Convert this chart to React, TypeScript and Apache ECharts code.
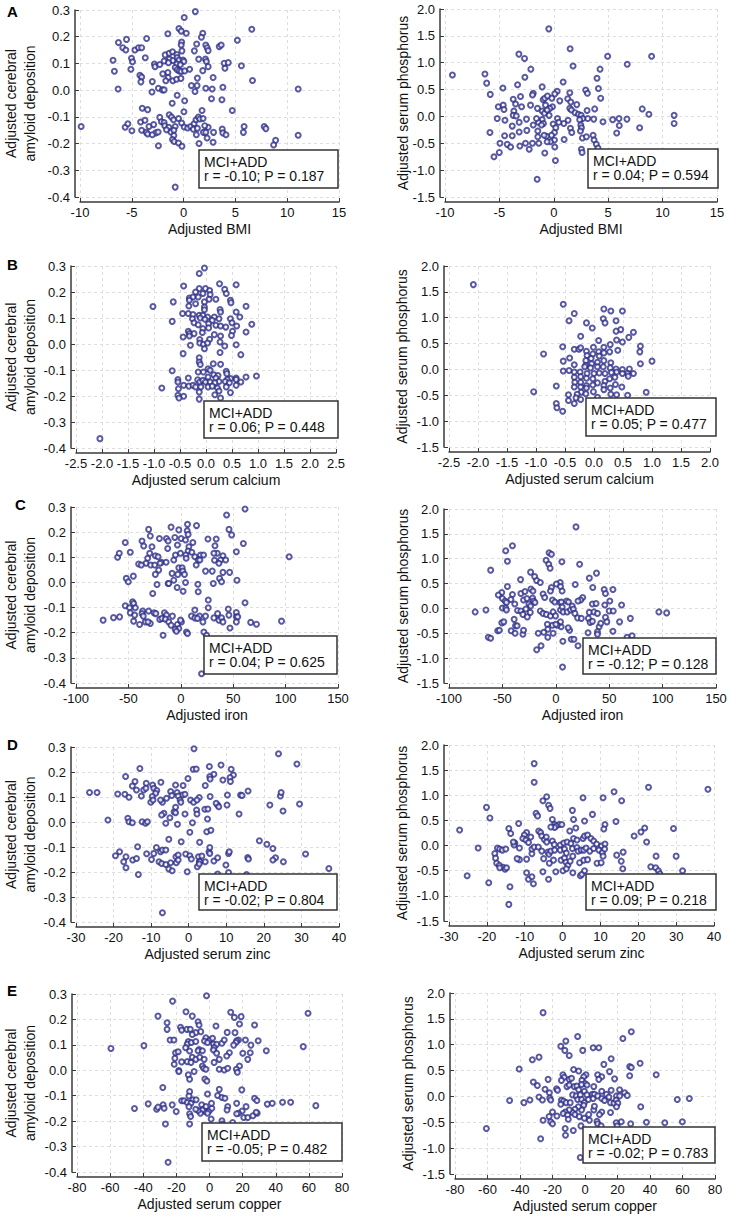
import React, { useEffect, useRef } from "react";
import * as echarts from "echarts";

// ---------- DATA ----------
const panelLetters = ["A", "B", "C", "D", "E"];
const xNames = ["Adjusted BMI", "Adjusted serum calcium", "Adjusted iron", "Adjusted serum zinc", "Adjusted serum copper"];
const yNameLeft = "Adjusted cerebral\namyloid deposition";
const yNameRight = "Adjusted serum phosphorus";
const groupLabel = "MCI+ADD";
const statsLeft = ["r = -0.10; P = 0.187", "r = 0.06; P = 0.448", "r = 0.04; P = 0.625", "r = -0.02; P = 0.804", "r = -0.05; P = 0.482"];
const statsRight = ["r = 0.04; P = 0.594", "r = 0.05; P = 0.477", "r = -0.12; P = 0.128", "r = 0.09; P = 0.218", "r = -0.02; P = 0.783"];

// x-axis scales [min, max, interval, decimals]
const xScalesLeft = [[-10, 15, 5, 0], [-2.5, 2.5, 0.5, 1], [-100, 150, 50, 0], [-30, 40, 10, 0], [-80, 80, 20, 0]];
const xScalesRight = [[-10, 15, 5, 0], [-2.5, 2.0, 0.5, 1], [-100, 150, 50, 0], [-30, 40, 10, 0], [-80, 80, 20, 0]];
const yScaleLeft = [-0.4, 0.3, 0.1];
const yScaleRight = [-1.5, 2.0, 0.5];

const bmiAmyloid = [[1.13,0.294],[0.06,0.272],[-0.45,0.231],[-0.23,0.221],[0.26,0.213],[-1.52,0.211],[1.85,0.213],[6.58,0.228],[5.19,0.187],[-3.57,0.193],[-5.51,0.19],[-6.29,0.178],[-5.87,0.159],[-5.58,0.15],[-4.7,0.15],[-4.35,0.159],[-4.05,0.159],[-0.19,0.18],[-0.23,0.169],[1.26,0.173],[2.14,0.169],[2.27,0.159],[2.37,0.148],[1.72,0.198],[1.04,0.147],[-0.16,0.147],[3.44,0.163],[3.63,0.169],[-6.81,0.112],[-6.68,0.071],[-6.32,0.004],[-5.03,0.119],[-4.93,0.106],[-5.09,0.078],[-3.7,0.121],[-4.22,0.056],[-4.05,0.049],[-4.12,0.031],[-3.02,0.032],[-2.82,0.098],[-2.76,0.088],[-2.3,0.096],[-1.88,0.109],[-1.78,0.132],[-1.39,0.138],[-1.07,0.144],[-0.65,0.133],[-1.36,0.116],[-1.04,0.111],[-1.46,0.103],[-0.62,0.122],[-0.45,0.113],[-0.06,0.113],[0.03,0.107],[-0.65,0.098],[-0.32,0.095],[-0.81,0.085],[-0.62,0.076],[-0.42,0.072],[-0.23,0.07],[0.1,0.072],[0.58,0.078],[-1.52,0.066],[-2.01,0.061],[-1.49,0.047],[-1.04,0.035],[-0.68,0.041],[-0.26,0.044],[-1.72,0.035],[1.46,0.116],[1.85,0.073],[2.11,0.116],[2.2,0.107],[2.37,0.088],[3.92,0.101],[4.31,0.103],[3.99,0.082],[5.58,0.091],[6.65,0.036],[2.85,0.047],[1.33,0.045],[0.75,0.017],[1.3,0.017],[1.1,-0.005],[2.14,0.007],[2.76,0.004],[3.79,0.011],[-2.43,0.007],[-2.04,0.001],[-1.88,0.001],[-3.05,-0.007],[-0.62,-0.019],[0.1,-0.04],[2.69,-0.032],[3.7,-0.036],[-1.1,-0.049],[0.03,-0.081],[1.78,-0.076],[4.7,-0.076],[-3.99,-0.068],[-3.47,-0.073],[-9.89,-0.136],[-5.64,-0.139],[-5.38,-0.126],[-4.99,-0.152],[-4.15,-0.119],[-3.73,-0.113],[-4.05,-0.15],[-3.6,-0.158],[-3.47,-0.164],[-3.34,-0.136],[-2.89,-0.129],[-2.3,-0.102],[-2.14,-0.118],[-1.88,-0.121],[-2.69,-0.16],[-3.02,-0.167],[-2.46,-0.157],[-1.82,-0.133],[-1.39,-0.092],[-1.17,-0.101],[-0.97,-0.111],[-0.49,-0.106],[-1.43,-0.139],[-1.23,-0.157],[-1.65,-0.148],[-0.81,-0.136],[-0.94,-0.15],[-0.94,-0.17],[-1.07,-0.185],[-0.91,-0.192],[-0.49,-0.198],[-0.16,-0.21],[-2.43,-0.208],[-0.19,-0.123],[0.06,-0.138],[0.39,-0.142],[0.68,-0.136],[1.01,-0.126],[1.2,-0.111],[1.43,-0.101],[1.56,-0.108],[1.88,-0.106],[0.94,-0.146],[1.33,-0.143],[1.23,-0.167],[1.49,-0.2],[2.37,-0.139],[1.91,-0.158],[2.14,-0.158],[2.04,-0.133],[2.27,-0.179],[2.89,-0.158],[2.85,-0.195],[3.73,-0.146],[3.79,-0.16],[4.09,-0.167],[5.84,-0.136],[5.77,-0.158],[7.78,-0.136],[7.94,-0.144],[8.88,-0.188],[8.69,-0.205],[11.06,-0.169],[11.06,0.004],[-0.81,-0.363]];

const bmiPhos = [[-0.46,1.63],[1.5,1.26],[-3.21,1.16],[-2.69,1.08],[4.95,1.12],[8.99,1.12],[6.75,0.97],[1.77,0.94],[4.25,0.88],[-2.11,0.88],[-9.32,0.77],[-6.33,0.79],[-6.17,0.62],[-2.66,0.73],[3.97,0.71],[0.86,0.64],[4.1,0.52],[-3.33,0.59],[-4.68,0.53],[-1.07,0.55],[-5.84,0.41],[2.93,0.49],[3.09,0.43],[4.31,0.34],[0.31,0.47],[0.09,0.42],[-1.89,0.43],[-1.96,0.4],[1.47,0.44],[-3.73,0.32],[-3.06,0.37],[-3.51,0.23],[-5.1,0.18],[-4.65,0.21],[-4.58,0.13],[-3.67,0.1],[-3.73,0.02],[-3.45,0.01],[-2.96,0.18],[-2.14,0.21],[-1.5,0.15],[-0.98,0.31],[-0.83,0.34],[-0.58,0.38],[-0.18,0.34],[-0.12,0.18],[-0.37,0.15],[-0.76,0.21],[-1.07,0.1],[-0.86,0.06],[-0.61,0.12],[-0.43,0.02],[0.55,0.29],[1.28,0.33],[1.56,0.27],[1.47,0.15],[1.62,0.12],[2.11,0.22],[1.96,0.07],[2.26,0.04],[2.51,0.02],[3.06,0.11],[3.76,0.14],[8.13,0.14],[8.74,0.04],[11.06,0.02],[11.06,-0.13],[7.89,-0.21],[6.72,-0.05],[5.99,-0.04],[6.02,-0.17],[5.41,-0.06],[4.52,-0.1],[5.78,-0.31],[3.67,-0.05],[3.12,-0.04],[2.66,-0.04],[2.38,-0.06],[2.48,-0.16],[2.54,-0.21],[2.45,-0.27],[2.63,-0.4],[3.0,-0.38],[3.61,-0.35],[3.7,-0.44],[3.91,-0.52],[4.06,-0.59],[2.54,-0.61],[2.6,-0.67],[0.92,-0.13],[1.31,-0.07],[1.53,-0.22],[1.65,-0.3],[0.95,-0.43],[0.34,-0.04],[0.46,-0.11],[-0.06,-0.14],[0.18,-0.21],[0.06,-0.3],[-0.21,-0.35],[0.06,-0.44],[-0.31,-0.47],[0.09,-0.57],[-0.67,-0.37],[-0.61,-0.47],[-0.89,-0.35],[-1.07,-0.06],[-1.41,-0.11],[-1.59,-0.04],[-0.95,-0.13],[-1.13,-0.16],[-1.89,-0.16],[-1.47,-0.27],[-1.47,-0.38],[-1.38,-0.5],[-2.51,-0.05],[-2.48,-0.26],[-3.18,-0.11],[-3.18,-0.29],[-3.82,-0.18],[-4.49,-0.07],[-5.2,-0.04],[-5.87,-0.3],[-4.52,-0.36],[-3.82,-0.36],[-4.28,-0.52],[-3.97,-0.57],[-3.12,-0.55],[-2.6,-0.5],[-2.26,-0.61],[-1.96,-0.5],[-0.83,-0.68],[-4.95,-0.5],[-5.01,-0.67],[-5.5,-0.75],[0.15,-0.82],[-1.53,-1.17]];

const calciumAmyloid = [[-0.03,0.292],[-0.13,0.271],[0.26,0.232],[0.58,0.228],[-0.43,0.223],[-0.13,0.213],[-0.01,0.213],[0.07,0.206],[0.36,0.21],[0.39,0.194],[-0.2,0.2],[-0.06,0.194],[0.08,0.19],[-1.02,0.144],[-0.63,0.162],[-0.32,0.177],[-0.25,0.181],[-0.32,0.168],[-0.15,0.181],[-0.03,0.162],[0.06,0.172],[0.19,0.172],[0.47,0.168],[0.48,0.159],[0.77,0.145],[-0.33,0.146],[-0.2,0.155],[-0.03,0.142],[-0.03,0.132],[0.27,0.133],[0.28,0.123],[0.58,0.123],[-0.45,0.117],[-0.34,0.117],[-0.25,0.113],[-0.13,0.11],[-0.06,0.11],[0.03,0.104],[0.16,0.104],[0.25,0.097],[0.47,0.097],[0.65,0.104],[-0.26,0.097],[-0.11,0.1],[-0.02,0.095],[0.12,0.091],[-0.65,0.087],[-0.23,0.082],[-0.15,0.074],[0.05,0.078],[0.19,0.072],[0.28,0.069],[0.38,0.065],[0.5,0.082],[0.59,0.069],[0.88,0.076],[-0.06,0.059],[0.05,0.062],[0.77,0.046],[-0.34,0.049],[-0.32,0.04],[-0.23,0.04],[-0.44,0.027],[-0.32,0.031],[-0.07,0.044],[0.16,0.036],[0.28,0.031],[0.51,0.049],[0.49,0.033],[-0.12,0.017],[0.07,0.018],[0.27,0.008],[-0.12,0.004],[-0.05,-0.001],[0.03,0.004],[-0.3,-0.005],[-0.03,-0.018],[0.36,-0.008],[0.58,-0.003],[-0.44,-0.037],[0.27,-0.033],[0.67,-0.041],[-0.13,-0.053],[-0.13,-0.069],[-0.11,-0.079],[0.14,-0.076],[0.28,-0.078],[0.04,-0.095],[0.08,-0.101],[-0.65,-0.103],[-0.15,-0.108],[-0.05,-0.108],[0.39,-0.105],[0.4,-0.114],[0.15,-0.118],[0.23,-0.121],[0.97,-0.123],[0.77,-0.127],[0.58,-0.131],[0.58,-0.137],[0.47,-0.133],[0.41,-0.137],[-0.34,-0.131],[0.04,-0.127],[0.19,-0.131],[0.25,-0.144],[0.37,-0.144],[0.45,-0.149],[0.67,-0.146],[-0.54,-0.137],[-0.54,-0.146],[-0.16,-0.138],[-0.12,-0.146],[-0.06,-0.14],[-0.01,-0.146],[0.08,-0.146],[0.17,-0.149],[-0.43,-0.159],[-0.33,-0.162],[-0.25,-0.159],[-0.2,-0.165],[-0.1,-0.165],[0.04,-0.165],[0.12,-0.162],[0.22,-0.169],[0.39,-0.165],[0.58,-0.159],[-0.85,-0.169],[-0.53,-0.172],[-0.13,-0.185],[0.25,-0.181],[0.47,-0.187],[-0.54,-0.197],[-0.43,-0.201],[-0.52,-0.208],[-0.13,-0.212],[0.17,-0.195],[0.28,-0.208],[-2.04,-0.364]];

const calciumPhos = [[-2.08,1.64],[-0.53,1.26],[-0.34,1.08],[0.17,1.17],[0.29,1.13],[0.49,1.13],[-0.43,0.94],[0.16,0.98],[0.19,0.9],[0.38,0.94],[-0.13,0.9],[-0.03,0.8],[0.46,0.77],[0.38,0.74],[0.68,0.72],[-0.23,0.64],[0.6,0.62],[0.39,0.57],[0.49,0.53],[0.08,0.56],[-0.87,0.3],[-0.54,0.44],[-0.34,0.39],[-0.26,0.39],[-0.23,0.42],[-0.01,0.43],[0.17,0.43],[0.28,0.48],[0.8,0.45],[0.79,0.34],[0.27,0.34],[0.41,0.37],[-0.13,0.35],[-0.02,0.3],[0.08,0.34],[0.09,0.26],[0.17,0.32],[-0.12,0.27],[-0.14,0.17],[-0.05,0.21],[-0.42,0.22],[-0.53,0.16],[-0.34,0.09],[-0.14,0.08],[-0.04,0.11],[0.06,0.14],[0.17,0.17],[0.29,0.13],[0.8,0.11],[1.0,0.16],[-0.53,-0.03],[-0.43,-0.02],[-0.34,-0.05],[-0.24,-0.05],[-0.16,0.05],[-0.06,0.03],[0.06,0.05],[0.16,0.05],[0.28,0.03],[0.38,0.01],[0.49,0.0],[0.61,0.01],[0.58,-0.08],[0.68,-0.08],[0.49,-0.08],[0.39,-0.05],[0.3,-0.06],[0.19,-0.08],[0.09,-0.07],[0.0,-0.08],[-0.12,-0.08],[-0.23,-0.14],[-0.34,-0.15],[-0.33,-0.25],[-0.23,-0.25],[-0.13,-0.17],[-0.02,-0.18],[0.06,-0.26],[0.19,-0.23],[0.27,-0.18],[0.36,-0.15],[0.59,-0.13],[0.17,-0.31],[0.37,-0.29],[0.28,-0.36],[0.17,-0.39],[-0.13,-0.31],[-0.02,-0.3],[-0.34,-0.34],[-0.23,-0.34],[-0.13,-0.36],[-0.01,-0.43],[-0.22,-0.44],[-0.14,-0.47],[-0.65,-0.32],[-1.04,-0.43],[-0.44,-0.49],[-0.29,-0.48],[-0.31,-0.55],[-0.23,-0.58],[-0.44,-0.6],[-0.34,-0.66],[-0.65,-0.66],[-0.64,-0.74],[-0.54,-0.81],[0.48,-0.34],[0.58,-0.5],[0.29,-0.48],[0.39,-0.49],[0.9,-0.44],[0.06,-0.54]];

const ironAmyloid = [[61.3,0.292],[43.7,0.268],[46.0,0.211],[48.5,0.189],[59.7,0.155],[53.0,0.122],[103.4,0.102],[-30.7,0.211],[-9.3,0.22],[15.0,0.226],[6.4,0.231],[-1.9,0.209],[6.1,0.205],[7.0,0.191],[-53.0,0.159],[-37.0,0.165],[-35.4,0.145],[-29.1,0.185],[-27.5,0.142],[-20.4,0.175],[-13.7,0.175],[-12.1,0.165],[-12.5,0.135],[-5.7,0.179],[0.3,0.175],[11.5,0.159],[-3.2,0.149],[4.5,0.169],[7.7,0.142],[7.0,0.125],[10.5,0.12],[25.9,0.173],[33.8,0.173],[32.6,0.146],[34.8,0.116],[31.6,0.116],[40.2,0.106],[38.0,0.089],[42.8,0.089],[32.2,0.088],[36.4,0.076],[-60.3,0.1],[-58.7,0.116],[-48.2,0.12],[-31.6,0.096],[-29.7,0.116],[-24.3,0.106],[-21.7,0.102],[-33.2,0.076],[-40.2,0.073],[-37.7,0.069],[-28.7,0.069],[-24.9,0.069],[-18.5,0.08],[-19.8,0.076],[-14.0,0.08],[-6.7,0.089],[-5.1,0.109],[-0.3,0.116],[4.8,0.109],[5.1,0.096],[13.4,0.102],[18.8,0.109],[21.7,0.109],[16.6,0.089],[14.7,0.069],[18.2,0.089],[-8.3,0.036],[-2.9,0.032],[-1.9,0.058],[1.3,0.058],[1.9,0.045],[3.5,0.032],[-21.1,0.049],[-24.3,0.032],[23.6,0.045],[30.0,0.045],[40.2,0.04],[46.6,0.04],[37.0,0.016],[38.9,0.003],[31.0,-0.004],[53.6,0.009],[-6.7,0.009],[4.5,0.0],[-22.7,-0.008],[-12.1,-0.004],[-11.5,-0.004],[-52.0,0.016],[-50.1,0.003],[-45.3,0.025],[-3.5,-0.02],[2.2,-0.035],[16.3,-0.007],[16.6,-0.037],[-26.8,-0.044],[26.2,-0.07],[61.3,-0.081],[-46.0,-0.077],[-45.0,-0.084],[-53.0,-0.093],[-48.9,-0.101],[-43.4,-0.101],[26.2,-0.101],[45.3,-0.106],[13.4,-0.11],[-36.4,-0.114],[-30.7,-0.114],[-25.5,-0.121],[-15.6,-0.121],[-13.7,-0.13],[-8.0,-0.134],[-48.2,-0.121],[-44.0,-0.13],[-37.0,-0.124],[-35.8,-0.134],[-23.8,-0.124],[53.0,-0.12],[35.1,-0.124],[45.9,-0.13],[53.0,-0.137],[54.3,-0.137],[10.2,-0.134],[17.9,-0.134],[23.6,-0.134],[31.6,-0.141],[36.4,-0.15],[38.9,-0.141],[40.2,-0.157],[13.4,-0.141],[15.9,-0.143],[-74.1,-0.15],[-64.2,-0.14],[-58.4,-0.137],[-45.0,-0.154],[-33.8,-0.157],[-29.1,-0.163],[-31.3,-0.157],[-39.3,-0.167],[-20.1,-0.147],[-17.9,-0.143],[-14.7,-0.146],[-11.5,-0.157],[-9.3,-0.17],[-3.2,-0.167],[0.6,-0.157],[-1.9,-0.183],[-5.4,-0.186],[-4.2,-0.194],[-0.3,-0.15],[5.4,-0.197],[6.4,-0.203],[22.0,-0.197],[24.6,-0.21],[21.1,-0.157],[-16.9,-0.21],[53.0,-0.157],[66.7,-0.159],[72.2,-0.166],[46.9,-0.181],[96.1,-0.154],[19.8,-0.363]];

const ironPhos = [[18.9,1.64],[-40.6,1.26],[-46.9,1.16],[-45.3,0.95],[-6.3,1.12],[-4.1,1.09],[-9.1,0.97],[-6.6,0.89],[-5.3,0.81],[5.7,0.94],[22.3,0.89],[-61.0,0.77],[-23.6,0.73],[38.1,0.71],[31.4,0.61],[-19.8,0.64],[-17.9,0.56],[-14.5,0.52],[-33.0,0.58],[4.1,0.52],[0.6,0.49],[18.2,0.48],[4.4,0.44],[-4.1,0.42],[34.6,0.42],[-45.3,0.44],[-50.6,0.32],[-53.8,0.27],[-40.6,0.28],[-32.7,0.3],[-28.9,0.34],[-23.3,0.39],[-21.4,0.35],[5.9,0.35],[-5.0,0.35],[45.3,0.38],[46.5,0.3],[53.5,0.38],[-50.0,0.2],[-42.1,0.18],[-47.5,0.15],[-46.2,0.12],[-38.4,0.09],[-30.2,0.17],[-27.0,0.2],[-21.7,0.21],[-20.8,0.15],[-25.2,0.09],[-23.6,0.05],[-19.5,0.12],[-11.9,0.29],[-10.4,0.22],[-3.1,0.17],[-0.9,0.13],[3.8,0.12],[5.3,0.13],[10.1,0.15],[11.9,0.13],[25.2,0.22],[23.3,0.17],[20.8,0.15],[50.6,0.15],[34.3,0.09],[37.7,0.1],[45.9,0.07],[61.6,0.07],[-75.5,-0.07],[-65.4,-0.03],[-50.0,0.01],[-46.9,0.01],[-46.2,-0.03],[-35.8,-0.04],[-32.7,-0.05],[-30.8,-0.12],[-28.0,-0.01],[-26.7,-0.17],[-23.9,-0.08],[-14.5,-0.05],[-11.9,-0.1],[-8.8,-0.12],[-5.0,-0.15],[-2.5,-0.07],[-0.3,-0.15],[4.4,-0.03],[6.0,0.03],[6.9,-0.07],[10.7,-0.07],[13.8,-0.03],[15.4,0.05],[16.4,-0.01],[17.9,-0.1],[20.4,-0.19],[23.9,-0.2],[31.4,-0.08],[35.8,-0.07],[39.0,-0.1],[30.5,-0.2],[32.1,-0.28],[34.3,-0.26],[40.6,-0.37],[42.1,-0.3],[46.5,-0.18],[50.0,-0.05],[53.8,-0.05],[47.8,-0.27],[59.7,-0.27],[69.8,-0.2],[96.5,-0.07],[103.8,-0.09],[53.5,-0.46],[66.7,-0.58],[71.4,-0.55],[39.0,-0.47],[39.0,-0.52],[30.2,-0.49],[12.9,-0.44],[11.6,-0.39],[14.5,-0.62],[17.0,-0.62],[6.6,-0.66],[5.0,-0.37],[4.4,-0.27],[1.3,-0.34],[-3.1,-0.34],[0.0,-0.32],[-7.9,-0.32],[-7.5,-0.42],[-2.5,-0.5],[-11.3,-0.48],[-16.4,-0.5],[-7.5,-0.58],[-13.8,-0.75],[-17.9,-0.83],[6.3,-1.18],[20.8,-0.75],[-50.6,-0.29],[-48.7,-0.27],[-54.4,-0.45],[-52.8,-0.44],[-41.8,-0.45],[-37.7,-0.35],[-36.2,-0.35],[-38.1,-0.5],[-30.8,-0.52],[-30.2,-0.44],[-63.2,-0.58],[-61.0,-0.6],[-39.0,-0.22]];

const zincAmyloid = [[1.4,0.293],[23.9,0.273],[28.8,0.232],[8.6,0.228],[5.5,0.222],[1.2,0.211],[2.0,0.212],[-13.0,0.214],[11.3,0.211],[6.7,0.191],[11.9,0.188],[5.6,0.182],[5.7,0.172],[-16.8,0.182],[-0.2,0.174],[11.0,0.178],[11.1,0.162],[9.1,0.168],[-14.3,0.162],[-11.3,0.155],[-7.4,0.159],[-15.0,0.144],[-13.9,0.128],[-12.0,0.128],[-11.4,0.135],[-9.6,0.148],[-9.3,0.135],[-3.5,0.148],[-1.5,0.146],[4.4,0.146],[-8.5,0.126],[-8.8,0.115],[-4.8,0.122],[-4.5,0.106],[-3.1,0.118],[-1.7,0.108],[-1.0,0.111],[-26.4,0.118],[-24.4,0.118],[-18.9,0.112],[-17.0,0.111],[-15.9,0.099],[-12.6,0.104],[-9.7,0.102],[-7.0,0.079],[-10.1,0.079],[-9.5,0.088],[-7.5,0.088],[-5.9,0.095],[-2.8,0.104],[-2.3,0.088],[-2.1,0.079],[0.5,0.088],[1.3,0.079],[2.8,0.098],[2.2,0.088],[5.7,0.102],[10.3,0.108],[13.8,0.108],[15.8,0.124],[14.2,0.106],[24.4,0.104],[24.6,0.118],[7.7,0.068],[10.2,0.068],[7.3,0.075],[8.0,0.061],[21.6,0.068],[29.5,0.072],[25.1,0.044],[13.4,0.032],[4.3,0.051],[5.1,0.052],[2.1,0.048],[2.2,0.032],[-1.0,0.032],[-3.9,0.041],[-3.5,0.059],[-6.6,0.035],[-7.2,0.028],[-3.5,0.037],[-16.2,0.015],[-15.9,0.001],[-15.0,-0.003],[-12.4,0.001],[-11.5,-0.005],[-11.0,0.001],[-21.5,0.008],[-6.1,-0.005],[-3.0,-0.009],[-5.0,0.017],[1.0,-0.003],[5.0,0.012],[0.3,-0.041],[4.8,-0.039],[5.9,-0.033],[-5.3,-0.069],[-2.0,-0.079],[2.9,-0.081],[18.8,-0.075],[20.8,-0.089],[22.4,-0.106],[31.1,-0.128],[-13.6,-0.099],[-18.4,-0.119],[-19.5,-0.135],[-16.7,-0.139],[-14.9,-0.152],[-13.9,-0.146],[-17.3,-0.159],[-16.7,-0.183],[-13.4,-0.21],[-11.2,-0.127],[-9.9,-0.15],[-9.3,-0.126],[-8.6,-0.102],[-7.5,-0.119],[-7.0,-0.112],[-6.1,-0.112],[-7.9,-0.159],[-7.2,-0.166],[-6.1,-0.17],[-4.8,-0.163],[-5.3,-0.188],[-4.4,-0.195],[-3.3,-0.163],[-3.4,-0.139],[-2.8,-0.132],[-2.8,-0.152],[-0.8,-0.128],[-0.4,-0.199],[0.3,-0.135],[0.7,-0.148],[2.6,-0.139],[3.5,-0.136],[2.8,-0.159],[2.3,-0.179],[3.0,-0.159],[2.8,-0.168],[4.4,-0.159],[5.4,-0.119],[5.6,-0.126],[5.6,-0.102],[6.7,-0.156],[7.7,-0.143],[7.7,-0.208],[9.9,-0.172],[10.6,-0.126],[10.8,-0.119],[10.6,-0.202],[15.7,-0.142],[15.9,-0.148],[15.4,-0.21],[23.1,-0.143],[22.4,-0.152],[25.2,-0.159],[37.3,-0.186],[-7.0,-0.363]];

const zincPhos = [[-7.5,1.63],[-7.5,1.26],[22.7,1.16],[38.4,1.12],[13.6,1.07],[-4.2,0.97],[-5.2,0.89],[5.4,0.95],[10.7,0.95],[15.6,0.89],[-20.1,0.76],[-3.7,0.8],[-3.3,0.74],[2.6,0.7],[-7.0,0.64],[-6.6,0.59],[7.9,0.62],[-19.2,0.55],[-2.7,0.52],[2.9,0.52],[5.8,0.49],[14.1,0.48],[-2.1,0.42],[-0.9,0.42],[-1.7,0.39],[-0.2,0.42],[-2.1,0.36],[-3.1,0.37],[11.2,0.42],[10.9,0.33],[3.5,0.35],[1.9,0.29],[-27.2,0.31],[-14.2,0.34],[-11.6,0.44],[-13.7,0.24],[21.7,0.35],[29.3,0.34],[20.7,0.27],[18.9,0.19],[-9.5,0.26],[-10.1,0.21],[-10.5,0.14],[-9.7,0.11],[-9.0,0.06],[-12.6,0.05],[-12.8,0.01],[-11.4,-0.05],[-13.0,0.07],[-8.4,0.17],[-6.3,0.29],[-5.8,0.26],[-5.5,0.19],[-4.8,0.12],[-4.3,0.17],[-4.2,0.07],[-2.7,0.09],[-2.2,0.02],[-0.6,0.01],[0.3,0.05],[1.2,0.07],[2.2,0.04],[2.9,0.14],[3.8,0.11],[5.4,0.14],[5.8,0.19],[6.6,0.21],[7.5,0.14],[8.2,0.09],[9.0,0.03],[10.3,-0.01],[11.2,0.03],[22.2,0.07],[-22.3,-0.05],[-25.2,-0.6],[-19.5,-0.74],[-17.2,-0.05],[-16.6,-0.07],[-15.9,-0.09],[-15.0,-0.07],[-17.9,-0.16],[-17.7,-0.25],[-17.4,-0.35],[-16.7,-0.39],[-15.7,-0.43],[-15.2,-0.47],[-14.8,-0.44],[-16.6,-0.44],[-11.4,-0.28],[-12.0,-0.26],[-9.5,-0.27],[-8.1,-0.16],[-8.1,-0.07],[-7.5,-0.03],[-6.4,-0.03],[-5.5,-0.11],[-3.9,-0.13],[-3.6,-0.17],[-3.1,-0.11],[-2.1,-0.09],[-0.6,-0.09],[0.5,-0.07],[1.0,-0.15],[2.6,-0.06],[3.8,-0.04],[4.1,-0.11],[4.9,-0.09],[5.6,-0.09],[6.2,-0.05],[7.2,-0.11],[8.2,-0.06],[9.6,-0.09],[10.5,-0.14],[10.7,-0.21],[11.1,-0.07],[14.3,-0.19],[16.0,-0.13],[15.5,-0.31],[15.9,-0.46],[24.7,-0.21],[30.0,-0.21],[23.3,-0.42],[24.6,-0.44],[25.3,-0.5],[25.7,-0.56],[31.7,-0.5],[-5.0,-0.26],[-3.5,-0.35],[-2.4,-0.29],[-0.4,-0.29],[0.5,-0.25],[0.9,-0.33],[1.4,-0.39],[2.0,-0.31],[2.7,-0.21],[4.5,-0.34],[5.6,-0.29],[6.6,-0.28],[9.1,-0.35],[10.2,-0.34],[-5.2,-0.52],[-3.7,-0.67],[-1.8,-0.52],[0.1,-0.5],[1.0,-0.46],[2.7,-0.54],[4.7,-0.6],[5.1,-0.57],[5.8,-0.5],[-9.5,-0.54],[-9.0,-0.67],[-8.1,-0.62],[-7.7,-0.76],[-13.9,-0.82],[-14.2,-1.17]];

const copperAmyloid = [[-1.8,0.293],[-22.3,0.272],[59.5,0.224],[12.8,0.228],[-31.1,0.213],[-14.2,0.23],[-10.4,0.213],[15.0,0.208],[19.1,0.211],[-25.6,0.187],[-6.9,0.191],[-6.3,0.178],[27.2,0.178],[18.1,0.182],[3.9,0.174],[-25.6,0.161],[-17.5,0.169],[-16.8,0.158],[-13.6,0.161],[-11.6,0.161],[-5.3,0.152],[-8.3,0.148],[-10.4,0.141],[-2.2,0.128],[0.2,0.119],[1.8,0.126],[10.7,0.149],[15.4,0.148],[17.5,0.119],[16.4,0.116],[21.7,0.119],[29.4,0.116],[-23.8,0.119],[-21.5,0.119],[-12.8,0.113],[-13.4,0.103],[-11.0,0.109],[-8.3,0.113],[-3.0,0.115],[-1.2,0.109],[2.4,0.103],[4.3,0.102],[7.5,0.106],[8.9,0.119],[16.0,0.109],[14.6,0.099],[25.0,0.099],[-14.4,0.089],[2.8,0.089],[2.4,0.08],[-6.3,0.082],[-6.9,0.077],[-4.3,0.077],[-12.0,0.076],[-20.5,0.069],[-18.9,0.073],[4.3,0.067],[12.0,0.069],[20.1,0.067],[24.6,0.069],[34.3,0.077],[56.6,0.093],[-59.5,0.086],[-39.6,0.097],[10.4,0.056],[-20.9,0.047],[-10.4,0.051],[-8.3,0.043],[-5.9,0.051],[-3.2,0.043],[5.9,0.043],[23.1,0.043],[-16.8,0.033],[-13.4,0.034],[-11.2,0.031],[2.8,0.031],[-21.3,0.024],[-4.3,0.017],[18.1,0.017],[-3.5,0.008],[-2.2,0.004],[5.9,0.004],[8.9,0.001],[11.0,0.008],[16.2,0.004],[-18.5,-0.001],[-18.5,-0.005],[-9.3,-0.005],[16.8,-0.008],[-12.8,-0.018],[-12.0,-0.035],[-2.8,-0.034],[-1.6,-0.042],[-28.2,-0.068],[5.9,-0.075],[19.5,-0.077],[-12.0,-0.084],[-1.2,-0.093],[-12.4,-0.101],[4.9,-0.099],[7.5,-0.107],[9.3,-0.11],[27.2,-0.11],[28.6,-0.119],[-16.8,-0.12],[-15.4,-0.12],[-10.0,-0.116],[-8.1,-0.116],[-13.4,-0.127],[-11.2,-0.13],[-37.0,-0.132],[-22.5,-0.136],[-28.0,-0.136],[-27.4,-0.149],[-31.9,-0.153],[-31.1,-0.145],[-45.3,-0.15],[-20.1,-0.162],[-12.4,-0.143],[-12.0,-0.171],[-4.7,-0.136],[-3.7,-0.153],[-2.2,-0.143],[-2.6,-0.162],[-0.2,-0.16],[-1.2,-0.169],[1.4,-0.149],[1.2,-0.13],[-4.3,-0.156],[-5.5,-0.169],[-6.9,-0.158],[-8.3,-0.153],[16.4,-0.13],[11.0,-0.143],[10.6,-0.156],[22.1,-0.143],[19.7,-0.16],[17.5,-0.169],[16.4,-0.171],[20.7,-0.186],[23.1,-0.186],[26.2,-0.179],[28.8,-0.169],[28.2,-0.165],[34.9,-0.133],[37.9,-0.13],[44.1,-0.126],[49.0,-0.126],[64.2,-0.139],[-11.4,-0.182],[1.0,-0.192],[7.5,-0.199],[7.9,-0.211],[14.0,-0.205],[-26.6,-0.211],[-12.0,-0.211],[-25.0,-0.362]];

const copperPhos = [[-25.8,1.62],[28.5,1.25],[23.3,1.12],[-4.5,1.16],[-11.8,1.07],[-14.9,0.97],[-12.4,0.89],[-1.4,0.89],[5.0,0.94],[8.5,0.94],[-9.7,0.79],[-32.4,0.71],[-28.3,0.76],[16.1,0.73],[11.6,0.62],[33.9,0.64],[27.5,0.58],[28.5,0.56],[-40.5,0.53],[-7.0,0.52],[-3.9,0.49],[15.1,0.48],[43.8,0.42],[27.5,0.4],[7.8,0.42],[10.3,0.38],[8.5,0.33],[18.2,0.34],[0.6,0.42],[-0.8,0.38],[-1.9,0.31],[0.0,0.25],[-13.6,0.42],[-12.8,0.37],[-14.5,0.31],[-9.7,0.33],[-8.3,0.35],[-31.8,0.28],[-22.7,0.33],[-29.3,0.21],[-24.6,0.14],[-17.5,0.15],[-16.9,0.12],[-21.9,0.07],[-11.1,0.19],[-9.7,0.22],[-6.6,0.19],[-5.0,0.2],[-3.9,0.13],[-2.1,0.23],[1.2,0.22],[5.4,0.19],[-0.4,0.1],[10.3,0.1],[16.1,0.12],[21.3,0.13],[24.4,0.07],[26.0,0.02],[13.2,0.04],[19.4,0.01],[21.3,0.01],[-46.4,-0.08],[-37.6,-0.12],[-33.9,-0.07],[-28.3,-0.01],[-26.2,-0.07],[-21.7,-0.03],[-21.1,-0.07],[-14.5,-0.07],[-13.2,-0.09],[-11.6,-0.12],[-14.9,-0.15],[-9.1,-0.12],[-7.6,0.03],[-5.4,0.01],[-2.9,0.03],[1.2,0.03],[4.5,0.04],[5.8,0.04],[-4.5,-0.06],[-2.1,-0.06],[-0.4,-0.12],[2.1,-0.06],[5.0,-0.04],[7.8,0.01],[10.3,-0.04],[12.0,-0.08],[14.7,-0.01],[15.7,-0.12],[17.8,-0.13],[19.2,-0.07],[20.2,-0.13],[19.4,-0.2],[34.3,-0.2],[56.8,-0.06],[64.2,-0.04],[37.8,-0.5],[49.1,-0.51],[59.9,-0.49],[22.3,-0.49],[28.1,-0.53],[19.2,-0.51],[19.8,-0.57],[15.7,-0.31],[10.3,-0.3],[8.9,-0.35],[5.4,-0.26],[5.8,-0.19],[-0.8,-0.17],[-2.1,-0.26],[-4.1,-0.2],[-6.2,-0.25],[-7.6,-0.31],[-6.2,-0.35],[-9.7,-0.26],[-12.2,-0.3],[-13.4,-0.33],[-10.7,-0.36],[-10.3,-0.44],[-17.3,-0.38],[-20.0,-0.3],[-22.1,-0.39],[-25.8,-0.46],[-21.1,-0.49],[-20.0,-0.53],[-27.3,-0.82],[-12.2,-0.62],[-12.0,-0.75],[-7.2,-0.66],[-3.5,-0.39],[-2.5,-0.57],[-0.4,-0.42],[2.3,-0.35],[2.7,-0.46],[7.4,-0.48],[7.8,-0.53],[9.9,-0.57],[-2.9,-1.18],[-60.7,-0.62]];

const seriesLeft = [bmiAmyloid, calciumAmyloid, ironAmyloid, zincAmyloid, copperAmyloid];
const seriesRight = [bmiPhos, calciumPhos, ironPhos, zincPhos, copperPhos];

// ---------- LAYOUT ----------
const gridsLeft = [
  { left: 80, top: 10, width: 259, height: 187 },
  { left: 76, top: 266, width: 260, height: 182 },
  { left: 76, top: 507, width: 262, height: 176 },
  { left: 76, top: 747, width: 263, height: 175 },
  { left: 77, top: 994, width: 265, height: 178 },
];
const gridsRight = [
  { left: 445, top: 9, width: 272, height: 188 },
  { left: 449, top: 266, width: 261, height: 181 },
  { left: 449, top: 509, width: 267, height: 174 },
  { left: 449, top: 745, width: 265, height: 176 },
  { left: 455, top: 993, width: 260, height: 181 },
];
const boxesLeft = [[199, 150, 139, 38], [204, 401, 134, 37], [204, 636, 133, 38], [199, 874, 138, 36], [202, 1123, 140, 38]];
const boxesRight = [[588, 149, 130, 39], [586, 398, 130, 38], [583, 638, 133, 36], [586, 874, 130, 36], [583, 1127, 132, 36]];
const letterPos = [[7, 4], [7, 257], [15, 497], [7, 737], [7, 983]];
const yNameRightX = [403, 402, 403, 402, 408];

const FONT = "'Liberation Sans', Arial, Helvetica, sans-serif";
const AXIS_COLOR = "#3a3a3a";
const POINT_COLOR = "#30308a";

function fmt(v: number, d: number) {
  if (Math.abs(v) < 1e-9) return d ? (0).toFixed(d) : "0";
  return v.toFixed(d);
}

function buildOption() {
  const grid: any[] = [];
  const xAxis: any[] = [];
  const yAxis: any[] = [];
  const series: any[] = [];
  const graphic: any[] = [];

  const addPanel = (g: any, xs: number[], ys: number[], data: number[][], xName: string, box: number[], stat: string) => {
    const idx = grid.length;
    grid.push({ ...g, containLabel: false });
    xAxis.push({
      type: "value",
      gridIndex: idx,
      min: xs[0],
      max: xs[1],
      interval: xs[2],
      offset: 5,
      name: xName,
      nameLocation: "middle",
      nameGap: 20,
      nameTextStyle: { fontFamily: FONT, fontSize: 14, color: "#111", verticalAlign: "top" },
      axisLine: { show: true, onZero: false, lineStyle: { color: AXIS_COLOR, width: 1.5 } },
      axisTick: { show: true, inside: true, length: 4, lineStyle: { color: AXIS_COLOR } },
      axisLabel: {
        show: true, interval: 0, hideOverlap: false, margin: 4,
        fontFamily: FONT, fontSize: 13, color: "#111",
        formatter: (v: number) => fmt(v, xs[3]),
      },
      splitLine: { show: true, lineStyle: { color: "#dedede", type: [3, 3], width: 1 } },
    });
    yAxis.push({
      type: "value",
      gridIndex: idx,
      min: ys[0],
      max: ys[1],
      interval: ys[2],
      offset: 5,
      axisLine: { show: true, onZero: false, lineStyle: { color: AXIS_COLOR, width: 1.5 } },
      axisTick: { show: true, inside: true, length: 4, lineStyle: { color: AXIS_COLOR } },
      axisLabel: {
        show: true, margin: 5, fontFamily: FONT, fontSize: 13, color: "#111",
        formatter: (v: number) => fmt(v, 1),
      },
      splitLine: { show: true, lineStyle: { color: "#dedede", type: [3, 3], width: 1 } },
    });
    series.push({
      type: "scatter",
      xAxisIndex: idx,
      yAxisIndex: idx,
      data,
      symbol: "emptyCircle",
      symbolSize: 5,
      itemStyle: { color: POINT_COLOR, borderColor: POINT_COLOR, borderWidth: 0.8 },
      z: 3,
    });
    graphic.push({
      type: "rect",
      shape: { x: box[0], y: box[1], width: box[2], height: box[3] },
      style: { fill: "#fff", stroke: "#333", lineWidth: 1.5 },
      z: 100,
    });
    graphic.push({
      type: "text",
      x: box[0] + 5,
      y: box[1] + 5,
      style: {
        text: groupLabel + "\n" + stat,
        fontFamily: FONT,
        fontSize: 14,
        lineHeight: 14,
        fill: "#111",
        align: "left",
        verticalAlign: "top",
      },
      z: 101,
    });
  };

  for (let i = 0; i < 5; i++) {
    const gl = gridsLeft[i];
    addPanel(gl, xScalesLeft[i], yScaleLeft, seriesLeft[i], xNames[i], boxesLeft[i], statsLeft[i]);
    const gr = gridsRight[i];
    addPanel(gr, xScalesRight[i], yScaleRight, seriesRight[i], xNames[i], boxesRight[i], statsRight[i]);

    graphic.push({
      type: "text",
      x: 20,
      y: gl.top + gl.height / 2,
      rotation: Math.PI / 2,
      style: {
        text: yNameLeft, fontFamily: FONT, fontSize: 14, lineHeight: 19,
        fill: "#111", align: "center", verticalAlign: "middle",
      },
      z: 50,
    });
    graphic.push({
      type: "text",
      x: yNameRightX[i],
      y: gr.top + gr.height / 2,
      rotation: Math.PI / 2,
      style: {
        text: yNameRight, fontFamily: FONT, fontSize: 14,
        fill: "#111", align: "center", verticalAlign: "middle",
      },
      z: 50,
    });
    graphic.push({
      type: "text",
      x: letterPos[i][0],
      y: letterPos[i][1],
      style: {
        text: panelLetters[i], fontFamily: FONT, fontSize: 15, fontWeight: "bold",
        fill: "#000", align: "left", verticalAlign: "top",
      },
      z: 50,
    });
  }

  return {
    animation: false,
    backgroundColor: "#ffffff",
    grid,
    xAxis,
    yAxis,
    series,
    graphic,
  };
}

export default function App() {
  const ref = useRef<HTMLDivElement>(null);
  useEffect(() => {
    if (!ref.current) return;
    const chart = echarts.init(ref.current, null, { renderer: "svg" });
    chart.setOption(buildOption());
    return () => chart.dispose();
  }, []);
  return (
    <div
      ref={ref}
      style={{ position: "absolute", left: 0, top: 0, width: 730, height: 1218, background: "#fff" }}
    />
  );
}
